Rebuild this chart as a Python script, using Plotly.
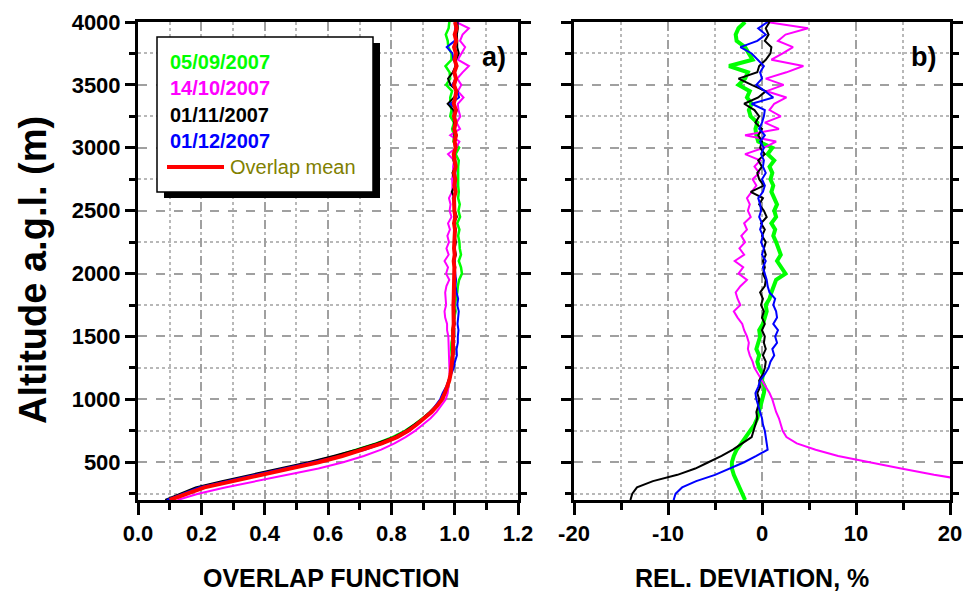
import plotly.graph_objects as go

# ---------------- data ----------------
ALT = [200, 250, 300, 350, 400, 450, 500, 550, 600, 650,
       700, 750, 800, 850, 900, 950, 1000, 1050, 1100, 1150,
       1200, 1250, 1300, 1350, 1400, 1450, 1500, 1550, 1600, 1650,
       1700, 1750, 1800, 1850, 1900, 1950, 2000, 2050, 2100, 2150,
       2200, 2250, 2300, 2350, 2400, 2450, 2500, 2550, 2600, 2650,
       2700, 2750, 2800, 2850, 2900, 2950, 3000, 3050, 3100, 3150,
       3200, 3250, 3300, 3350, 3400, 3450, 3500, 3550, 3600, 3650,
       3700, 3750, 3800, 3850, 3900, 3950, 4000]

SERIES_NAMES = ["05/09/2007", "14/10/2007", "01/11/2007", "01/12/2007", "Overlap mean"]

# panel a) overlap function
OV_GREEN = [0.098, 0.152, 0.205, 0.292, 0.378, 0.465, 0.552, 0.626, 0.693, 0.753,
            0.804, 0.843, 0.873, 0.900, 0.924, 0.944, 0.961, 0.971, 0.980, 0.983,
            0.988, 0.987, 0.987, 0.991, 0.989, 0.990, 0.994, 0.992, 0.998, 0.999,
            1.003, 1.000, 1.005, 1.008, 1.010, 1.014, 1.023, 1.020, 1.013, 1.020,
            1.016, 1.015, 1.011, 1.015, 1.008, 1.017, 1.012, 1.016, 1.011, 1.013,
            1.011, 1.011, 1.009, 1.011, 1.013, 1.003, 1.014, 0.996, 0.998, 0.992,
            0.998, 0.986, 0.990, 0.986, 0.986, 0.992, 0.973, 0.986, 0.984, 0.971,
            0.990, 0.990, 0.980, 0.978, 0.972, 0.981, 0.983]
OV_MAGENTA = [0.125, 0.190, 0.275, 0.375, 0.475, 0.570, 0.648, 0.713, 0.768, 0.810,
              0.845, 0.875, 0.900, 0.924, 0.943, 0.959, 0.972, 0.978, 0.981, 0.983,
              0.984, 0.983, 0.983, 0.981, 0.980, 0.980, 0.980, 0.976, 0.976, 0.970,
              0.968, 0.973, 0.971, 0.970, 0.974, 0.983, 0.973, 0.979, 0.968, 0.981,
              0.974, 0.982, 0.977, 0.985, 0.979, 0.990, 0.984, 0.987, 0.982, 0.992,
              0.993, 0.992, 0.995, 0.995, 0.998, 0.979, 1.005, 1.015, 0.986, 1.017,
              1.006, 1.018, 1.012, 1.010, 1.028, 1.010, 1.021, 1.008, 1.025, 1.045,
              1.010, 1.022, 1.033, 1.017, 1.025, 1.045, 1.005]
OV_BLACK = [0.086, 0.134, 0.182, 0.265, 0.355, 0.446, 0.538, 0.617, 0.690, 0.753,
            0.808, 0.845, 0.874, 0.900, 0.921, 0.941, 0.957, 0.964, 0.975, 0.980,
            0.988, 0.993, 0.996, 0.995, 0.999, 0.996, 0.999, 0.995, 1.000, 0.996,
            1.000, 0.995, 0.998, 0.996, 1.000, 1.003, 0.999, 1.002, 0.998, 1.004,
            1.000, 1.004, 0.999, 1.004, 0.997, 1.007, 1.001, 0.997, 0.999, 0.991,
            1.001, 0.999, 0.993, 1.003, 0.996, 1.000, 1.001, 1.000, 1.000, 0.999,
            0.996, 0.995, 0.996, 0.978, 0.998, 1.009, 0.987, 0.979, 0.994, 1.003,
            1.004, 1.013, 1.008, 1.008, 1.007, 1.010, 1.009]
OV_BLUE = [0.091, 0.141, 0.192, 0.279, 0.370, 0.464, 0.559, 0.640, 0.716, 0.774,
           0.821, 0.856, 0.881, 0.905, 0.925, 0.941, 0.954, 0.962, 0.973, 0.981,
           0.990, 0.997, 1.001, 1.007, 1.006, 1.010, 1.010, 1.012, 1.009, 1.012,
           1.013, 1.008, 1.011, 1.006, 1.003, 1.004, 1.001, 1.000, 1.001, 1.000,
           1.000, 0.999, 1.000, 0.999, 0.998, 0.999, 0.998, 0.998, 0.994, 1.004,
           1.002, 1.002, 1.002, 1.004, 1.002, 0.996, 1.005, 0.998, 1.007, 0.996,
           1.003, 1.000, 1.007, 0.986, 1.014, 1.008, 0.992, 1.004, 0.997, 1.008,
           0.996, 0.993, 0.975, 1.000, 1.004, 1.002, 1.007]
OV_MEAN = [0.100, 0.155, 0.210, 0.300, 0.390, 0.480, 0.570, 0.645, 0.712, 0.770,
           0.818, 0.853, 0.880, 0.905, 0.927, 0.945, 0.960, 0.969, 0.977, 0.983,
           0.987, 0.990, 0.992, 0.994, 0.995, 0.994, 0.996, 0.995, 0.997, 0.996,
           0.998, 0.996, 0.997, 0.998, 0.997, 0.999, 0.998, 0.999, 0.997, 1.000,
           0.998, 1.000, 0.999, 1.001, 0.998, 1.002, 0.999, 1.000, 0.998, 1.003,
           0.999, 1.002, 0.998, 1.003, 1.000, 0.997, 1.003, 1.000, 1.004, 0.999,
           1.003, 0.998, 1.004, 0.997, 1.002, 1.005, 0.998, 1.004, 0.999, 1.006,
           1.000, 1.004, 0.998, 1.005, 1.000, 1.006, 1.001]

# panel b) relative deviation, %
DEV_GREEN = [-1.8, -2.1, -2.4, -2.8, -3.0, -3.2, -3.2, -3.0, -2.7, -2.2,
             -1.7, -1.2, -0.8, -0.5, -0.3, -0.1, 0.1, 0.2, 0.3, 0.0,
             0.1, -0.3, -0.5, -0.3, -0.6, -0.4, -0.2, -0.3, 0.1, 0.3,
             0.5, 0.4, 0.8, 1.0, 1.3, 1.5, 2.5, 2.1, 1.6, 2.0,
             1.8, 1.5, 1.2, 1.4, 1.0, 1.5, 1.3, 1.6, 1.3, 1.0,
             1.2, 0.9, 1.1, 0.8, 1.3, 0.6, 1.1, -0.4, -0.6, -0.7,
             -0.5, -1.2, -1.4, -1.1, -1.6, -1.3, -2.5, -1.8, -1.5, -3.5,
             -1.0, -1.4, -1.8, -2.7, -2.8, -2.5, -1.8]
DEV_MAGENTA = [38.0, 32.0, 27.0, 22.5, 18.3, 14.8, 11.4, 8.1, 5.7, 3.7,
               2.6, 2.2, 2.0, 1.8, 1.5, 1.3, 1.1, 0.8, 0.4, 0.0,
               -0.4, -0.8, -1.0, -1.3, -1.5, -1.4, -1.6, -1.9, -2.1, -2.6,
               -3.0, -2.3, -2.6, -2.8, -2.3, -1.6, -2.5, -2.0, -2.9, -1.9,
               -2.4, -1.8, -2.2, -1.6, -1.9, -1.2, -1.5, -1.3, -1.6, -1.1,
               -0.6, -1.0, -0.3, -0.8, -0.2, -1.8, 0.2, 1.5, -1.8, 1.8,
               0.3, 2.0, 0.8, 1.3, 2.6, 0.5, 2.3, 0.4, 2.6, 4.4,
               1.0, 2.2, 3.3, 1.7, 2.5, 4.9, 0.5]
DEV_BLACK = [-14.0, -13.8, -13.3, -11.6, -9.0, -7.1, -5.7, -4.3, -3.1, -2.1,
             -1.1, -0.9, -0.7, -0.5, -0.6, -0.4, -0.3, -0.5, -0.2, -0.3,
             0.1, 0.3, 0.4, 0.1, 0.4, 0.2, 0.3, 0.0, 0.3, 0.0,
             0.2, -0.1, 0.1, -0.2, 0.3, 0.4, 0.1, 0.3, 0.1, 0.4,
             0.2, 0.4, 0.0, 0.3, -0.1, 0.5, 0.2, -0.3, 0.1, -1.2,
             0.2, -0.3, -0.5, 0.0, -0.4, 0.3, -0.2, 0.0, -0.4, 0.0,
             -0.7, -0.3, -0.8, -1.9, -0.4, 0.4, -1.1, -2.5, -0.5, -0.3,
             0.4, 0.9, 1.0, 0.3, 0.7, 0.4, 0.8]
DEV_BLUE = [-9.4, -9.2, -8.5, -7.0, -5.0, -3.4, -1.9, -0.6, 0.6, 0.5,
            0.4, 0.3, 0.1, 0.0, -0.2, -0.4, -0.6, -0.7, -0.4, -0.2,
            0.3, 0.7, 0.9, 1.3, 1.1, 1.6, 1.4, 1.7, 1.2, 1.6,
            1.5, 1.2, 1.4, 0.8, 0.6, 0.5, 0.3, 0.1, 0.4, 0.0,
            0.2, -0.1, 0.1, -0.2, 0.0, -0.3, -0.1, -0.2, -0.4, 0.1,
            0.3, 0.0, 0.4, 0.1, 0.2, -0.1, 0.2, -0.2, 0.3, -0.3,
            0.0, 0.2, 0.3, -1.1, 1.2, 0.3, -0.6, 0.0, -0.2, 0.2,
            -0.4, -1.1, -2.3, -0.5, 0.4, -0.4, 0.6]

for arr in (OV_GREEN, OV_MAGENTA, OV_BLACK, OV_BLUE, OV_MEAN,
            DEV_GREEN, DEV_MAGENTA, DEV_BLACK, DEV_BLUE):
    assert len(arr) == len(ALT), len(arr)

X_TICKS_A = [0.0, 0.2, 0.4, 0.6, 0.8, 1.0, 1.2]
X_TICKS_B = [-20, -10, 0, 10, 20]
X_TICKTEXT_B = ["-20", "-10", "0", "10", "20"]

# ---------------- style ----------------
W, H = 966, 592
FONT = "Liberation Sans, Arial, sans-serif"
GREEN, MAGENTA, BLACK, BLUE, RED = "#00ff00", "#ff00ff", "#000000", "#0000ff", "#ff0000"
OLIVE = "#808000"


def px(x):
    return x / W


def py(y):
    return 1 - y / H


fig = go.Figure()

# panel a
for vals, col, wid in [(OV_GREEN, GREEN, 2.5), (OV_MAGENTA, MAGENTA, 2),
                       (OV_BLACK, BLACK, 2), (OV_BLUE, BLUE, 2), (OV_MEAN, RED, 4)]:
    fig.add_trace(go.Scatter(x=vals, y=ALT, mode="lines", xaxis="x", yaxis="y",
                             line=dict(color=col, width=wid), showlegend=False,
                             hoverinfo="skip"))
# panel b
for vals, col, wid in [(DEV_GREEN, GREEN, 4), (DEV_MAGENTA, MAGENTA, 2),
                       (DEV_BLACK, BLACK, 2), (DEV_BLUE, BLUE, 2)]:
    fig.add_trace(go.Scatter(x=vals, y=ALT, mode="lines", xaxis="x2", yaxis="y2",
                             line=dict(color=col, width=wid), showlegend=False,
                             hoverinfo="skip"))

tickfont = dict(family=FONT, size=22, color="black", weight="bold")
grid_major = dict(showgrid=True, gridcolor="#a0a0a0", griddash="dash", gridwidth=1.5)
common_x = dict(ticks="outside", ticklen=12, tickwidth=3, tickcolor="black",
                showline=True, linewidth=3, linecolor="black", mirror=True,
                zeroline=False, tickfont=tickfont, automargin=False, **grid_major)
common_y = dict(ticks="outside", ticklen=10, tickwidth=3, tickcolor="black",
                showline=True, linewidth=3, linecolor="black", mirror="allticks",
                zeroline=False, tickfont=tickfont, range=[200, 4000],
                tickmode="linear", tick0=0, dtick=500, automargin=False,
                domain=[py(500), py(22)], **grid_major)
minor_grid = dict(showgrid=True, gridcolor="#b8b8b8", griddash="dot", gridwidth=1.5,
                  ticks="outside", tickwidth=3, tickcolor="black")

fig.update_layout(
    width=W, height=H, margin=dict(l=0, r=0, t=0, b=0, autoexpand=False),
    paper_bgcolor="white", plot_bgcolor="white",
    xaxis=dict(domain=[px(138), px(518)], range=[0, 1.2], anchor="y",
               tickmode="array", tickvals=X_TICKS_A,
               ticktext=[f"{v:.1f}" for v in X_TICKS_A],
               minor=dict(tickmode="linear", tick0=0, dtick=0.1, ticklen=7, **minor_grid),
               **common_x),
    yaxis=dict(anchor="x",
               minor=dict(tickmode="linear", tick0=0, dtick=250, ticklen=6, **minor_grid),
               **common_y),
    xaxis2=dict(domain=[px(574), px(950)], range=[-20, 20], anchor="y2",
                tickmode="array", tickvals=X_TICKS_B, ticktext=X_TICKTEXT_B,
                minor=dict(tickmode="linear", tick0=0, dtick=5, ticklen=7, **minor_grid),
                **common_x),
    yaxis2=dict(anchor="x2", showticklabels=False,
                minor=dict(tickmode="linear", tick0=0, dtick=250, ticklen=6, **minor_grid),
                **common_y),
)

# legend box with shadow
fig.add_shape(type="rect", xref="paper", yref="paper", x0=px(164), x1=px(380),
              y0=py(198), y1=py(43), fillcolor="black", line=dict(width=0), layer="above")
fig.add_shape(type="rect", xref="paper", yref="paper", x0=px(157), x1=px(373),
              y0=py(192), y1=py(37), fillcolor="white",
              line=dict(color="black", width=1.5), layer="above")
fig.add_shape(type="line", xref="paper", yref="paper", x0=px(167), x1=px(224),
              y0=py(167), y1=py(167), line=dict(color=RED, width=4), layer="above")

legend_rows = [(SERIES_NAMES[0], GREEN, 62, 168, "bold"),
               (SERIES_NAMES[1], MAGENTA, 88, 168, "bold"),
               (SERIES_NAMES[2], BLACK, 115, 168, "bold"),
               (SERIES_NAMES[3], BLUE, 141, 168, "bold"),
               (SERIES_NAMES[4], OLIVE, 167, 228, "normal")]
for txt, col, yy, xx, wt in legend_rows:
    fig.add_annotation(text=txt, xref="paper", yref="paper", x=px(xx), y=py(yy),
                       xanchor="left", yanchor="middle", showarrow=False,
                       font=dict(family=FONT, size=20, color=col, weight=wt))

# panel labels
for txt, xx in [("a)", 494), ("b)", 923)]:
    fig.add_annotation(text=txt, xref="paper", yref="paper", x=px(xx), y=py(57),
                       xanchor="center", yanchor="middle", showarrow=False,
                       font=dict(family=FONT, size=27, color="black", weight="bold"))

# axis titles
fig.add_annotation(text="Altitude a.g.l. (m)", xref="paper", yref="paper",
                   x=px(33), y=py(270), textangle=-90, xanchor="center", yanchor="middle",
                   showarrow=False,
                   font=dict(family=FONT, size=38, color="black", weight="bold"))
fig.add_annotation(text="OVERLAP FUNCTION", xref="paper", yref="paper",
                   x=px(331), y=py(578), xanchor="center", yanchor="middle",
                   showarrow=False,
                   font=dict(family=FONT, size=25, color="black", weight="bold"))
fig.add_annotation(text="REL. DEVIATION, %", xref="paper", yref="paper",
                   x=px(752), y=py(578), xanchor="center", yanchor="middle",
                   showarrow=False,
                   font=dict(family=FONT, size=25, color="black", weight="bold"))

fig.write_html("out.html")
